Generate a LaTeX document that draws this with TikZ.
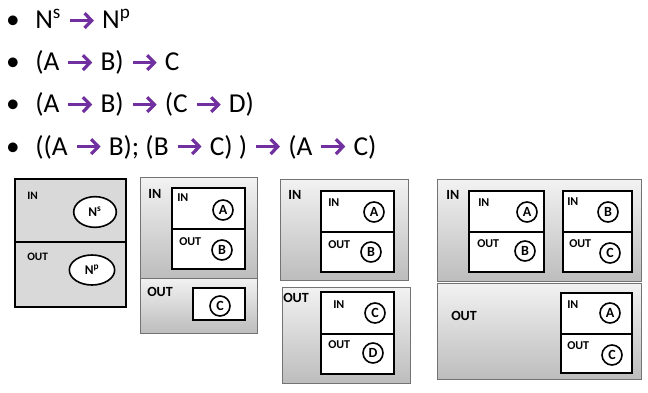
\documentclass[tikz,border=0pt]{standalone}
\usepackage{fontspec}
\setmainfont{Carlito}
\usetikzlibrary{shapes.geometric}
\definecolor{arrpurple}{HTML}{7030A0}
\newcommand{\purparrow}{\hspace{1pt}\tikz[x=1pt,y=1pt,baseline=0pt]{\draw[arrpurple,line width=2.4pt,line cap=butt,line join=miter] (0,6.3)--(16.2,6.3);\draw[arrpurple,line width=2.4pt,line cap=butt,line join=miter] (10.8,11.8)--(16.2,6.3)--(10.8,0.8);}\hspace{2pt}}
\tikzset{
  bultext/.style={anchor=base west,inner sep=0pt,font=\fontsize{20.5}{22}\selectfont},
  bulmark/.style={anchor=base,inner sep=0pt,font=\fontsize{20.5}{22}\selectfont},
  graybox/.style={draw=black!55,line width=0.7pt,top color=black!5,bottom color=black!26},
  plainbox/.style={draw=black,line width=1.5pt,fill=black!15},
  whitebox/.style={draw=black,line width=1.5pt,fill=white},
  biglab/.style={anchor=west,inner sep=0pt,font=\fontsize{10.5}{12}\bfseries\selectfont},
  smalllab/.style={anchor=west,inner sep=0pt,font=\fontsize{9}{11}\bfseries\selectfont},
  tinylab/.style={anchor=west,inner sep=0pt,font=\fontsize{8.5}{10}\bfseries\selectfont},
  ball/.style={circle,draw=black,line width=1.2pt,fill=white,minimum size=15pt,inner sep=0pt,font=\fontsize{10.5}{12}\bfseries\selectfont},
  oval/.style={ellipse,draw=black,line width=1.2pt,fill=white,inner sep=0pt,font=\fontsize{10}{12}\bfseries\selectfont}
}
\begin{document}
\begin{tikzpicture}[x=0.75pt,y=-0.75pt]
\useasboundingbox (0,0) rectangle (648,392);
% bullet list
\node[bulmark] (b1) at (13,29) {•};
\node[bultext] (t1) at (35,29) {N\textsuperscript{s} \purparrow{} N\textsuperscript{p}};
\node[bulmark] (b2) at (13,71) {•};
\node[bultext] (t2) at (35,71) {(A \purparrow{} B) \purparrow{} C};
\node[bulmark] (b3) at (13,113) {•};
\node[bultext] (t3) at (35,113) {(A \purparrow{} B) \purparrow{} (C \purparrow{} D)};
\node[bulmark] (b4) at (13,155) {•};
\node[bultext] (t4) at (35,155) {((A \purparrow{} B); (B \purparrow{} C) ) \purparrow{} (A \purparrow{} C)};

% box 1
\draw[plainbox] (15,179) rectangle (126,307);
\draw[black,line width=1.5pt] (15,242) -- (126,242);
\node[tinylab] (l1a) at (27,196) {IN};
\node[tinylab] (l1b) at (27,257) {OUT};
\node[oval,minimum width=32pt,minimum height=23pt] (ns) at (95,212) {N\textsuperscript{s}};
\node[oval,minimum width=34pt,minimum height=22.5pt] (np) at (92,270) {N\textsuperscript{p}};

% box 2
\draw[graybox] (140,177) rectangle (257,278);
\draw[graybox] (140,278) rectangle (257,333);
\node[biglab] (l2a) at (148,194) {IN};
\node[biglab] (l2b) at (147,292) {OUT};
\draw[whitebox] (172,188) rectangle (245,269);
\draw[black,line width=1.5pt] (172,229) -- (245,229);
\node[smalllab] (l2c) at (177,198) {IN};
\node[smalllab] (l2d) at (179,242) {OUT};
\node[ball] (a2) at (223,210) {A};
\node[ball] (bb2) at (222,250) {B};
\draw[whitebox] (193,288) rectangle (245,320);
\node[ball] (c2) at (220,306) {C};

% box 3
\draw[graybox] (280,179) rectangle (408,280);
\draw[graybox] (282,287) rectangle (410,383);
\node[biglab] (l3a) at (288,195) {IN};
\node[biglab] (l3b) at (283,298) {OUT};
\draw[whitebox] (321,191) rectangle (394,272);
\draw[black,line width=1.5pt] (321,232) -- (394,232);
\node[smalllab] (l3c) at (328,203) {IN};
\node[smalllab] (l3d) at (328,245) {OUT};
\node[ball] (a3) at (374,212) {A};
\node[ball] (bb3) at (371,252) {B};
\draw[whitebox] (321,292) rectangle (394,374);
\draw[black,line width=1.5pt] (321,334) -- (394,334);
\node[smalllab] (l3e) at (333,305) {IN};
\node[smalllab] (l3f) at (328,345) {OUT};
\node[ball] (c3) at (375,313) {C};
\node[ball] (d3) at (373,353) {D};

% box 4
\draw[graybox] (437,179) rectangle (641,281);
\draw[graybox] (437,283) rectangle (641,379);
\node[biglab] (l4a) at (446,195) {IN};
\node[biglab] (l4b) at (451,316) {OUT};
\draw[whitebox] (469,191) rectangle (544,272);
\draw[black,line width=1.5pt] (469,232) -- (544,232);
\node[smalllab] (l4c) at (478,203) {IN};
\node[smalllab] (l4d) at (477,244) {OUT};
\node[ball] (a4) at (527,212) {A};
\node[ball] (bb4) at (525,251) {B};
\draw[whitebox] (563,191) rectangle (632,272);
\draw[black,line width=1.5pt] (563,232) -- (632,232);
\node[smalllab] (l4e) at (567,202) {IN};
\node[smalllab] (l4f) at (569,244) {OUT};
\node[ball] (bc4) at (608,212) {B};
\node[ball] (c4) at (610,253) {C};
\draw[whitebox] (561,293) rectangle (632,373);
\draw[black,line width=1.5pt] (561,334) -- (632,334);
\node[smalllab] (l4g) at (567,305) {IN};
\node[smalllab] (l4h) at (567,346) {OUT};
\node[ball] (a5) at (610,313) {A};
\node[ball] (c5) at (612,355) {C};
\end{tikzpicture}
\end{document}
